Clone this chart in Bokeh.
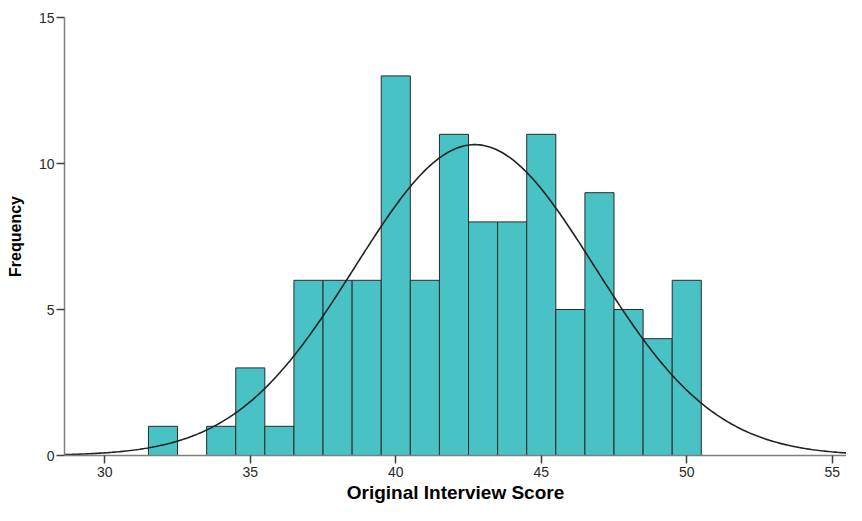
import numpy as np
from bokeh.plotting import figure
from bokeh.models import Range1d, FixedTicker, ColumnDataSource
from bokeh.embed import file_html
from bokeh.resources import INLINE

# Histogram data (bin centers, bin width 1)
bin_centers = [32, 33, 34, 35, 36, 37, 38, 39, 40, 41, 42, 43, 44, 45, 46, 47, 48, 49, 50]
frequencies = [1, 0, 1, 3, 1, 6, 6, 6, 13, 6, 11, 8, 8, 11, 5, 9, 5, 4, 6]
x_ticks = [30, 35, 40, 45, 50, 55]
y_ticks = [0, 5, 10, 15]

centers = np.array(bin_centers, dtype=float)
counts = np.array(frequencies, dtype=float)
mask = counts > 0
src = ColumnDataSource(dict(left=centers[mask] - 0.5, right=centers[mask] + 0.5,
                            top=counts[mask]))

# fitted normal curve from the binned data
n = counts.sum()
mu = (centers * counts).sum() / n
sd = np.sqrt(((centers - mu) ** 2 * counts).sum() / (n - 1))
xs = np.linspace(28.6, 56.0, 400)
ys = n * 1.0 / (sd * np.sqrt(2 * np.pi)) * np.exp(-0.5 * ((xs - mu) / sd) ** 2)

p = figure(width=846, height=505, output_backend="svg", toolbar_location=None,
           x_range=Range1d(28.615, 55.49), y_range=Range1d(0, 15),
           min_border_left=64, min_border_right=0, min_border_top=17, min_border_bottom=0)
p.outline_line_color = None
p.xgrid.visible = False
p.ygrid.visible = False
p.background_fill_color = "white"

p.quad(left="left", right="right", bottom=0, top="top", source=src,
       fill_color="#48c2c5", line_color="#2b2b2b", line_width=1)
p.line(xs, ys, line_color="#222222", line_width=1.6)

for ax in (p.xaxis[0], p.yaxis[0]):
    ax.axis_line_color = "#808080"
    ax.axis_line_width = 1.5
    ax.major_tick_line_color = "#404040"
    ax.major_tick_line_width = 1.5
    ax.major_tick_in = 0
    ax.major_tick_out = 8
    ax.minor_tick_line_color = None
    ax.major_label_text_font = "Liberation Sans"
    ax.major_label_text_font_size = "14px"
    ax.major_label_text_color = "#2a2a2a"
    ax.axis_label_text_font = "Liberation Sans"
    ax.axis_label_text_font_style = "bold"
    ax.axis_label_text_color = "#000000"

p.xaxis.ticker = FixedTicker(ticks=x_ticks)
p.yaxis.ticker = FixedTicker(ticks=y_ticks)
p.xaxis.axis_label = "Original Interview Score"
p.xaxis.axis_label_text_font_size = "19px"
p.xaxis.axis_label_standoff = 2
p.xaxis.major_label_standoff = 3
p.yaxis.axis_label = "Frequency"
p.yaxis.axis_label_text_font_size = "16px"
p.yaxis.axis_label_standoff = 12
p.yaxis.major_label_standoff = 2

open("out.html", "w").write(file_html(p, INLINE))
